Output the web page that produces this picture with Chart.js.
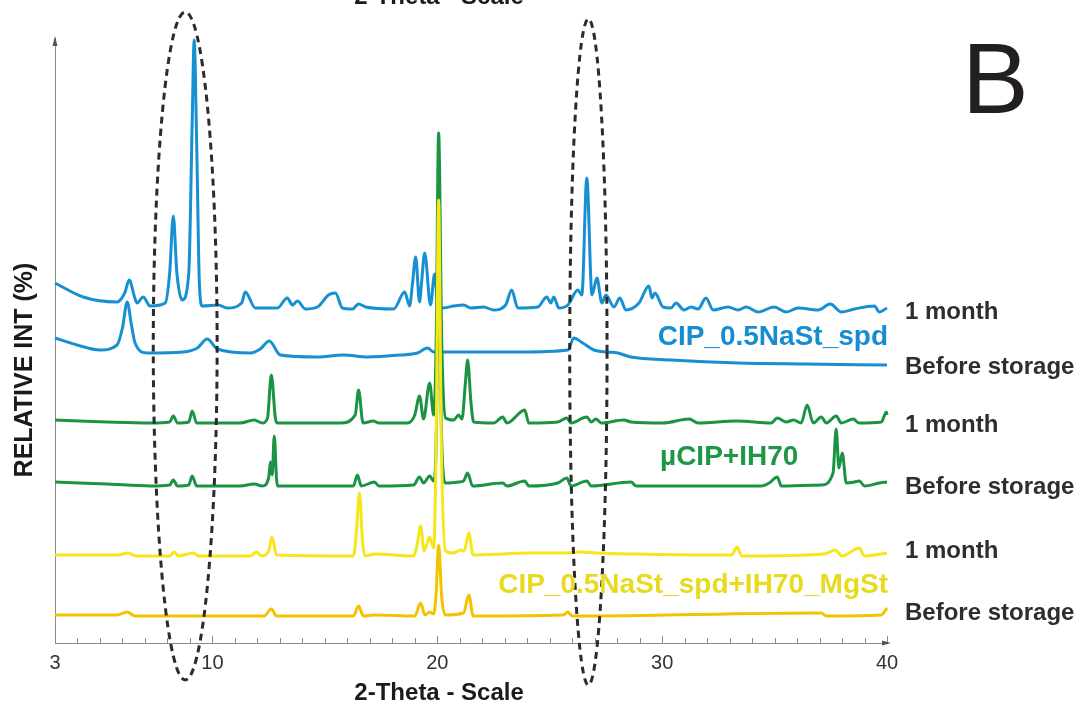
<!DOCTYPE html>
<html>
<head>
<meta charset="utf-8">
<script src="https://cdn.jsdelivr.net/npm/chart.js@4.4.1/dist/chart.umd.min.js"></script>
<style>
  html, body { margin: 0; padding: 0; background: #fff; }
  #wrap { width: 1082px; height: 711px; }
</style>
</head>
<body>
<div id="wrap"><canvas id="xrd" width="1082" height="711"></canvas></div>
<script>
// 2-theta (deg) / stacked intensity
var blueMonth = [[3.00,360],[4.25,346],[5.76,341],[6.10,350],[6.30,363],[6.55,345],[6.65,340],[6.92,346],[7.23,337],[7.90,340],[8.10,370],[8.26,427],[8.42,370],[8.66,343],[8.95,370],[9.10,520],[9.19,603],[9.30,500],[9.42,360],[9.55,337],[10.26,338],[10.66,335],[11.30,340],[11.46,351],[11.91,335],[12.89,335],[13.33,345],[13.56,338],[13.78,342],[14.14,334],[14.67,336],[15.16,348],[15.47,350],[15.78,335],[16.23,334],[16.50,339],[16.81,336],[18.06,334],[18.55,351],[18.77,337],[18.90,360],[19.04,386],[19.21,341],[19.30,360],[19.44,390],[19.70,338],[19.88,369],[20.00,345],[20.28,335],[20.73,337],[21.17,338],[21.49,335],[22.06,336],[22.51,333],[23.04,338],[23.31,353],[23.58,335],[24.47,336],[24.87,346],[25.05,340],[25.18,346],[25.41,335],[25.81,338],[26.25,353],[26.43,348],[26.65,465],[26.88,348],[27.10,365],[27.32,340],[27.50,348],[27.86,336],[28.12,345],[28.39,333],[28.97,340],[29.41,357],[29.55,345],[29.68,350],[30.04,336],[30.39,335],[30.62,340],[30.97,333],[31.29,336],[31.60,334],[31.95,345],[32.27,333],[32.93,336],[33.38,333],[33.74,336],[34.27,331],[34.98,336],[35.52,331],[36.05,335],[36.94,333],[37.48,339],[37.97,331],[38.55,334],[39.44,337],[39.66,331],[40.00,335]];
var blueBefore = [[3.00,305],[3.98,298],[5.00,293],[5.76,298],[6.00,315],[6.21,341],[6.40,318],[6.56,300],[7.10,290],[8.70,291],[9.33,295],[9.77,304],[10.22,294],[11.69,290],[12.13,294],[12.53,302],[13.02,288],[14.67,286],[15.83,288],[16.90,286],[18.37,288],[19.12,290],[19.57,295],[19.84,291],[20.59,291],[21.49,291],[23.71,291],[25.81,293],[26.07,305],[26.47,300],[26.96,293],[27.59,291],[28.03,290],[28.61,286],[30.39,283],[33.38,280],[36.32,279],[40.00,278]];
var greenMonth = [[3.00,223],[5.32,221],[7.23,220],[8.10,221],[8.26,227],[8.45,220],[8.95,221],[9.10,232],[9.30,220],[11.24,220],[11.86,223],[12.22,220],[12.45,225],[12.62,268],[12.80,225],[12.89,220],[15.69,220],[16.35,228],[16.50,253],[16.70,220],[17.16,222],[17.40,220],[18.68,220],[19.00,228],[19.21,247],[19.39,224],[19.66,260],[19.84,228],[19.95,300],[20.06,510],[20.20,300],[20.37,225],[20.73,223],[20.95,228],[21.10,224],[21.25,260],[21.35,283],[21.50,240],[21.62,221],[22.51,220],[22.91,226],[23.10,220],[23.89,233],[24.07,220],[25.36,221],[25.76,225],[25.95,220],[26.65,226],[26.85,221],[27.05,224],[27.30,220],[28.30,223],[28.61,221],[30.04,220],[31.20,224],[31.60,220],[33.33,222],[34.85,220],[35.12,225],[35.52,221],[35.85,223],[36.18,220],[36.45,238],[36.72,220],[37.08,226],[37.30,220],[37.74,227],[37.97,220],[38.50,224],[38.75,220],[39.75,221],[39.97,231],[40.00,228]];
var greenBefore = [[3.00,161],[5.32,159],[7.23,157],[8.10,158],[8.26,163],[8.45,157],[8.95,158],[9.10,167],[9.30,157],[11.24,157],[11.86,159],[12.22,157],[12.50,165],[12.58,181],[12.66,168],[12.75,207],[12.85,165],[12.89,157],[16.27,157],[16.45,168],[16.62,157],[17.21,161],[17.40,157],[18.95,158],[19.21,166],[19.39,160],[19.66,167],[19.84,162],[19.95,200],[20.06,380],[20.20,200],[20.37,160],[20.95,161],[21.17,162],[21.35,170],[21.57,157],[22.91,160],[23.10,157],[23.89,162],[24.07,157],[25.36,160],[25.76,165],[25.95,157],[26.65,162],[26.85,157],[28.61,161],[28.85,157],[34.40,157],[34.76,160],[35.12,166],[35.30,157],[37.08,158],[37.60,170],[37.74,214],[37.86,175],[38.01,190],[38.19,160],[38.55,161],[38.77,162],[39.00,157],[39.66,160],[40.00,161]];
var yellowMonth = [[3.00,88],[5.76,88],[6.25,90],[6.60,87],[8.10,87],[8.30,91],[8.50,87],[9.15,90],[9.40,87],[11.69,87],[11.95,91],[12.20,87],[12.50,92],[12.65,106],[12.85,88],[16.27,87],[16.40,110],[16.54,150],[16.68,100],[16.81,87],[17.21,89],[18.95,87],[19.12,100],[19.26,117],[19.42,92],[19.66,106],[19.84,95],[19.95,200],[20.06,443],[20.18,200],[20.37,92],[20.73,90],[21.04,93],[21.20,92],[21.40,110],[21.60,88],[22.96,89],[23.94,90],[25.81,90],[26.30,91],[27.05,90],[28.70,89],[31.86,88],[33.10,88],[33.33,96],[33.55,87],[37.21,89],[37.70,93],[38.00,87],[38.77,95],[39.00,87],[40.00,90]];
var yellowBefore = [[3.00,28],[5.76,28],[6.21,31],[6.56,27],[12.30,27],[12.62,34],[12.85,27],[16.27,27],[16.50,37],[16.72,27],[17.21,28],[19.00,27],[19.26,40],[19.45,28],[19.66,31],[19.84,29],[19.95,50],[20.06,98],[20.20,45],[20.37,28],[21.17,30],[21.40,48],[21.60,27],[25.60,28],[25.81,31],[26.00,27],[37.08,30],[37.30,27],[39.75,28],[40.00,35]];

var sampleNames = ['CIP_0.5NaSt_spd', 'µCIP+IH70', 'CIP_0.5NaSt_spd+IH70_MgSt'];
var stateNames = ['1 month', 'Before storage'];
var xTickValues = [3, 10, 20, 30, 40];

// where the marked regions sit: centre 2-theta, half width, top / bottom intensity
var ellipseCentre = [8.79, 26.72];
var ellipseHalfW = [1.42, 0.83];
var ellipseTop = [631, 624];
var ellipseBottom = [-37, -42];

var FONT = '"Liberation Sans", Arial, sans-serif';

function pts(arr) {
    return arr.map(function (p) { return {x: p[0], y: p[1]}; });
}

function line(data, color) {
    return {
        data: pts(data),
        borderColor: color,
        borderWidth: 3,
        pointRadius: 0,
        cubicInterpolationMode: 'monotone',
        borderJoinStyle: 'round',
        clip: false
    };
}

var decor = {
    id: 'decor',
    afterDatasetsDraw: function (chart) {
        var ctx = chart.ctx, a = chart.chartArea;
        var x = chart.scales.x, y = chart.scales.y;
        ctx.save();

        // small ticks every degree, pointing up
        ctx.strokeStyle = '#8a8a8a';
        ctx.lineWidth = 1;
        for (var t = 3; t <= 40; t++) {
            var px = Math.round(x.getPixelForValue(t)) + 0.5;
            var len = xTickValues.indexOf(t) >= 0 ? 7 : 5;
            ctx.beginPath();
            ctx.moveTo(px, a.bottom);
            ctx.lineTo(px, a.bottom - len);
            ctx.stroke();
        }

        // arrow heads
        ctx.fillStyle = '#555';
        ctx.beginPath();
        ctx.moveTo(a.left, a.top - 2);
        ctx.lineTo(a.left - 2.5, a.top + 8);
        ctx.lineTo(a.left + 2.5, a.top + 8);
        ctx.fill();
        ctx.beginPath();
        ctx.moveTo(a.right + 4, a.bottom);
        ctx.lineTo(a.right - 5, a.bottom - 2.5);
        ctx.lineTo(a.right - 5, a.bottom + 2.5);
        ctx.fill();

        // dashed ellipses
        ctx.strokeStyle = '#2b2b2b';
        ctx.lineWidth = 3;
        ctx.setLineDash([7, 5]);
        for (var i = 0; i < ellipseCentre.length; i++) {
            var cx = x.getPixelForValue(ellipseCentre[i]);
            var rx = x.getPixelForValue(ellipseCentre[i] + ellipseHalfW[i]) - cx;
            var top = y.getPixelForValue(ellipseTop[i]);
            var bot = y.getPixelForValue(ellipseBottom[i]);
            ctx.beginPath();
            ctx.ellipse(cx, (top + bot) / 2, rx, (bot - top) / 2, 0, 0, Math.PI * 2);
            ctx.stroke();
        }
        ctx.setLineDash([]);

        // state labels at the right
        var lx = a.right + 18;
        ctx.font = 'bold 24px ' + FONT;
        ctx.fillStyle = '#2e2e2e';
        ctx.textAlign = 'left';
        ctx.textBaseline = 'middle';
        [331, 218, 92].forEach(function (v) { ctx.fillText(stateNames[0], lx, y.getPixelForValue(v)); });
        [276, 156, 30].forEach(function (v) { ctx.fillText(stateNames[1], lx, y.getPixelForValue(v)); });

        // sample names
        ctx.font = 'bold 28px ' + FONT;
        ctx.textAlign = 'right';
        ctx.fillStyle = '#168dd0';
        ctx.fillText(sampleNames[0], x.getPixelForValue(40) + 1, y.getPixelForValue(306));
        ctx.textAlign = 'center';
        ctx.fillStyle = '#1d9646';
        ctx.fillText(sampleNames[1], x.getPixelForValue(32.98), y.getPixelForValue(186));
        ctx.textAlign = 'right';
        ctx.fillStyle = '#e8da1e';
        ctx.fillText(sampleNames[2], x.getPixelForValue(40) + 1, y.getPixelForValue(58));

        // axis titles
        ctx.fillStyle = '#1a1a1a';
        ctx.font = 'bold 24px ' + FONT;
        ctx.textAlign = 'center';
        ctx.textBaseline = 'alphabetic';
        var tx = x.getPixelForValue(20.08);
        ctx.fillText('2-Theta - Scale', tx, 700);
        ctx.fillText('2-Theta - Scale', tx, 4);

        ctx.save();
        ctx.translate(25, 370);
        ctx.rotate(-Math.PI / 2);
        ctx.textBaseline = 'middle';
        ctx.font = 'bold 25px ' + FONT;
        ctx.fillText('RELATIVE INT (%)', 0, 0);
        ctx.restore();

        // panel letter
        ctx.font = '100px ' + FONT;
        ctx.fillStyle = '#231f20';
        ctx.textAlign = 'left';
        ctx.fillText('B', 962, 113);

        ctx.restore();
    }
};

var ctx = document.getElementById('xrd').getContext('2d');
var xrdChart = new Chart(ctx, {
    type: 'line',
    data: {
        datasets: [
            line(yellowBefore, '#f4c300'),
            line(yellowMonth, '#f6e61a'),
            line(greenBefore, '#1a9444'),
            line(greenMonth, '#1a9444'),
            line(blueBefore, '#1690d2'),
            line(blueMonth, '#1690d2')
        ]
    },
    options: {
        responsive: false,
        animation: false,
        events: [],
        layout: { padding: { left: 55, right: 195, top: 38, bottom: 28 } },
        plugins: { legend: { display: false }, tooltip: { enabled: false } },
        scales: {
            x: {
                type: 'linear',
                min: 3,
                max: 40,
                afterBuildTicks: function (scale) {
                    scale.ticks = xTickValues.map(function (v) { return {value: v}; });
                },
                grid: { display: false, drawTicks: false },
                border: { display: true, color: '#8a8a8a', width: 1 },
                ticks: {
                    padding: 8,
                    maxRotation: 0,
                    autoSkip: false,
                    color: '#333',
                    font: { family: FONT, size: 20 }
                }
            },
            y: {
                min: 0,
                max: 605,
                grid: { display: false, drawTicks: false },
                border: { display: true, color: '#8a8a8a', width: 1 },
                ticks: { display: false }
            }
        }
    },
    plugins: [decor]
});
</script>
</body>
</html>
